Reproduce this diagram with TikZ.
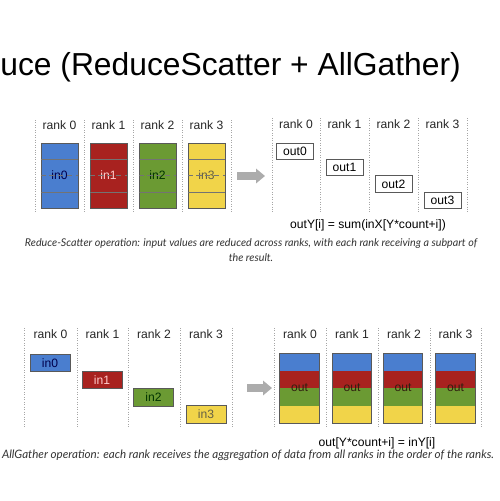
\documentclass[tikz,border=0pt]{standalone}
\usepackage{fontspec}
\setmainfont{Liberation Sans}
\newfontfamily\capfont{Lato}
\usetikzlibrary{positioning, arrows.meta, calc}

\definecolor{rsblue}{HTML}{4A7ECF}
\definecolor{rsred}{HTML}{A8221F}
\definecolor{rsgreen}{HTML}{6B9A33}
\definecolor{rsyellow}{HTML}{F1D449}

\begin{document}
\begin{tikzpicture}[
    x=0.02cm, y=-0.02cm,
    rank/.style={font=\fontsize{6.9}{8}\selectfont, text=black!85, inner sep=0},
    divider/.style={draw=gray!70, densely dotted, thin},
    inblk/.style={rectangle, draw=black!65, minimum width=0.74cm, minimum height=1.3cm, inner sep=0, font=\fontsize{6.9}{8}\selectfont},
    outblk/.style={rectangle, draw=black!65, fill=white, minimum width=0.74cm, minimum height=0.33cm, inner sep=0, font=\fontsize{6.9}{8}\selectfont},
    smallin/.style={rectangle, draw=black!65, minimum width=0.8cm, minimum height=0.35cm, inner sep=0, font=\fontsize{6.9}{8}\selectfont},
    band/.style={rectangle, minimum width=0.78cm, minimum height=0.35cm, inner sep=0},
    formula/.style={font=\fontsize{6.9}{8}\selectfont, inner sep=0},
    caption/.style={font=\capfont\itshape\fontsize{6.1}{8.5}\selectfont, text=black!80, inner sep=0, align=center},
    bigarrow/.style={-{Triangle[width=8pt,length=5pt]}, line width=4.5pt, draw=gray!65}
]
\useasboundingbox (0,0) rectangle (500,501);

% Title
\node[anchor=base west, inner sep=0, font=\fontsize{18.1}{20}\selectfont] (title) at (0,75) {uce (ReduceScatter + AllGather)};

% Reduce-Scatter: inputs
\foreach \x in {35,84,133,182,231} \draw[divider] (\x,120) -- (\x,213);
\node[rank] (rs0) at (59.5,125) {rank 0};
\node[rank] (rs1) at (108.5,125) {rank 1};
\node[rank] (rs2) at (157.5,125) {rank 2};
\node[rank] (rs3) at (206.5,125) {rank 3};

\node[inblk, fill=rsblue, text=blue!30!black] (in0) at (59.5,175.5) {in0};
\node[inblk, fill=rsred, text=red!20!white] (in1) at (108.5,175.5) {in1};
\node[inblk, fill=rsgreen, text=green!20!black] (in2) at (157.5,175.5) {in2};
\node[inblk, fill=rsyellow, text=yellow!30!black] (in3) at (206.5,175.5) {in3};
\foreach \n in {in0,in1,in2,in3} {
  \draw[black!55, thin] ($(\n.north west)!0.25!(\n.south west)$) -- ($(\n.north east)!0.25!(\n.south east)$);
  \draw[black!55, thin, densely dashed] ($(\n.north west)!0.5!(\n.south west)$) -- ($(\n.north east)!0.5!(\n.south east)$);
  \draw[black!55, thin] ($(\n.north west)!0.75!(\n.south west)$) -- ($(\n.north east)!0.75!(\n.south east)$);
}

% Arrow
\coordinate (rsa) at (237,176);
\coordinate (rsb) at (265,176);
\draw[bigarrow] (rsa) -- (rsb);

% Reduce-Scatter: outputs
\foreach \x in {272,320,369,418,467} \draw[divider] (\x,118) -- (\x,213);
\node[rank] (ro0) at (296,124) {rank 0};
\node[rank] (ro1) at (344.5,124) {rank 1};
\node[rank] (ro2) at (393.5,124) {rank 2};
\node[rank] (ro3) at (442.5,124) {rank 3};

\node[outblk] (out0) at (295,151.5) {out0};
\node[outblk] (out1) at (344.5,167.5) {out1};
\node[outblk] (out2) at (393.5,184) {out2};
\node[outblk] (out3) at (442.5,200.5) {out3};

\node[formula] (rsf) at (368,225) {outY[i] = sum(inX[Y*count+i])};
\node[caption] (rscap) at (251,250.5) {Reduce-Scatter operation: input values are reduced across ranks, with each rank receiving a subpart of\\the result.};

% AllGather: inputs
\foreach \x in {24,77,128,180,232} \draw[divider] (\x,328) -- (\x,428);
\node[rank] (ag0) at (50.5,334) {rank 0};
\node[rank] (ag1) at (102.5,334) {rank 1};
\node[rank] (ag2) at (154,334) {rank 2};
\node[rank] (ag3) at (206,334) {rank 3};

\node[smallin, fill=rsblue, text=blue!30!black] (gin0) at (50,363) {in0};
\node[smallin, fill=rsred, text=red!20!white] (gin1) at (102,380) {in1};
\node[smallin, fill=rsgreen, text=green!20!black] (gin2) at (153.5,397.5) {in2};
\node[smallin, fill=rsyellow, text=yellow!30!black] (gin3) at (206,414.5) {in3};

% Arrow
\coordinate (aga) at (247,388);
\coordinate (agb) at (272,388);
\draw[bigarrow] (aga) -- (agb);

% AllGather: outputs
\foreach \x in {274,326,378,430,481} \draw[divider] (\x,328) -- (\x,428);
\node[rank] (go0) at (300,334) {rank 0};
\node[rank] (go1) at (352,334) {rank 1};
\node[rank] (go2) at (404,334) {rank 2};
\node[rank] (go3) at (455.5,334) {rank 3};

\foreach \x/\n in {299.5/g0, 352/g1, 403/g2, 455.5/g3} {
  \node[band, fill=rsblue] (\n b) at (\x,362) {};
  \node[band, fill=rsred] (\n r) at (\x,379.5) {};
  \node[band, fill=rsgreen] (\n g) at (\x,397) {};
  \node[band, fill=rsyellow] (\n y) at (\x,414.5) {};
  \draw[black!65] (\n b.north west) rectangle (\n y.south east);
  \node[font=\fontsize{6.9}{8}\selectfont, text=black!75!brown, inner sep=0] (\n out) at (\x,388) {out};
}

\node[formula] (agf) at (377,443) {out[Y*count+i] = inY[i]};
\node[caption, font=\capfont\itshape\fontsize{6.6}{8.5}\selectfont] (agcap) at (248,455) {AllGather operation: each rank receives the aggregation of data from all ranks in the order of the ranks.};

\end{tikzpicture}
\end{document}
